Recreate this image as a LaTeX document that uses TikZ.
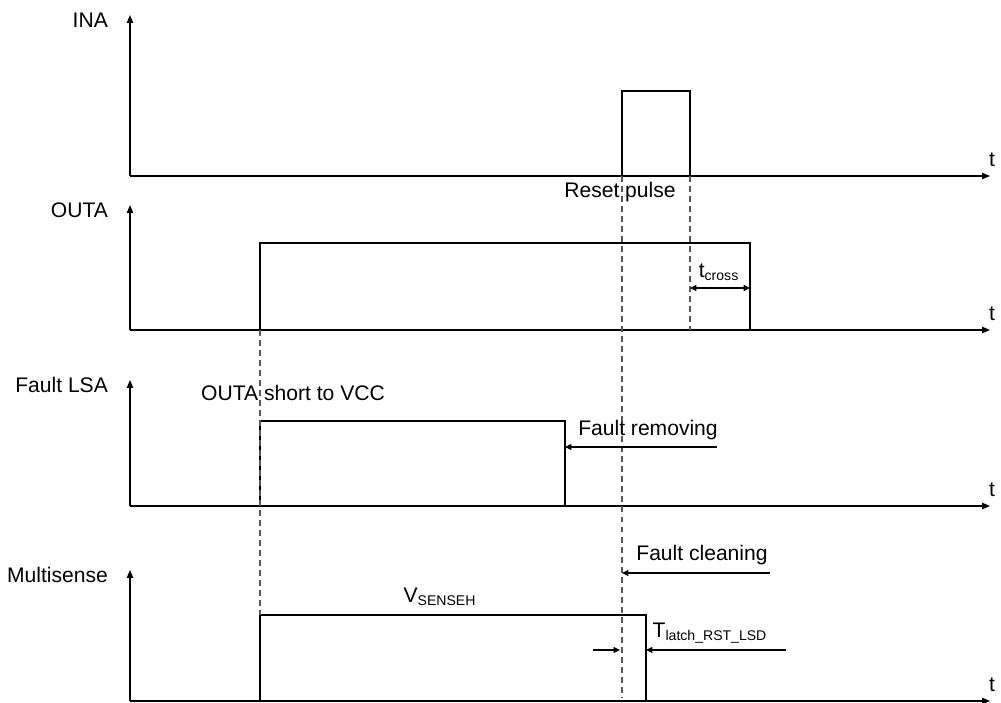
\documentclass[tikz,border=0pt]{standalone}
\usepackage{fontspec}
\setmainfont{Liberation Sans}
\usetikzlibrary{arrows.meta,calc,positioning}
\tikzset{
  axis/.style={
    line width=0.7pt,
    -{Triangle[length=4.5pt,width=3.6pt]}
  },
  signal/.style={
    line width=1.3pt,
    line join=miter
  },
  guide/.style={
    gray!70!black,
    line width=0.6pt,
    dash pattern=on 3.4pt off 2.3pt
  },
  marker/.style={
    line width=0.6pt,
    -{Triangle[length=3.6pt,width=3.4pt]}
  },
  lbl/.style={
    font=\fontsize{12}{14}\selectfont,
    inner sep=1pt
  }
}

\begin{document}
\begin{tikzpicture}[x=0.02cm,y=-0.02cm]
\useasboundingbox (0,0) rectangle (1001,703);
% axes of the four traces
\foreach \sig/\top/\base/\name in {ina/15/176/INA, outa/205/330/OUTA, flt/380/506/Fault LSA, msn/570/701/Multisense}{
  \coordinate (\sig-o) at (130,\base);
  \coordinate (\sig-y) at (130,\top);
  \coordinate (\sig-x) at (990,\base);
  \draw[axis] (\sig-o) -- (\sig-y);
  \draw[axis] (\sig-o) -- (\sig-x);
  \node[lbl, anchor=east] (\sig-name) at ($(\sig-y)+(-20,5)$) {\name};
  \node[lbl] (\sig-t) at ($(\sig-x)+(2,-16)$) {t};
}
% edges
\coordinate (ina-up) at (622,91);
\coordinate (ina-dn) at (690,91);
\coordinate (outa-up) at (260,243);
\coordinate (outa-dn) at (750,243);
\coordinate (flt-up) at (260,421);
\coordinate (flt-dn) at (565,421);
\coordinate (msn-up) at (260,615);
\coordinate (msn-dn) at (646,615);
% waveforms
\draw[signal] (ina-o) -| (ina-up) -- (ina-dn) |- (953,176);
\draw[signal] (outa-o) -| (outa-up) -- (outa-dn) |- (953,330);
\draw[signal] (flt-o) -| (flt-up) -- (flt-dn) |- (953,506);
\draw[signal] (msn-o) -| (msn-up) -- (msn-dn) |- (953,701);
% dashed guides
\draw[guide] (outa-up |- outa-o) -- (msn-up);
\draw[guide] (ina-up |- ina-o) -- (622,697);
\draw[guide] (ina-dn |- ina-o) -- (690,330);
% labels
\node[lbl] (reset) at (620,192) {Reset pulse};
\node[lbl] (short) at (293,393) {OUTA short to VCC};
\node[lbl] (vsense) at (440,597) {V\textsubscript{SENSEH}};
% t cross
\coordinate (tc-a) at (690,288);
\coordinate (tc-b) at (750,288);
\draw[marker, {Triangle[length=3.6pt,width=3.4pt]}-{Triangle[length=3.6pt,width=3.4pt]}] (tc-a) -- (tc-b);
\node[lbl] (tcross) at (719,272) {t\textsubscript{cross}};
% fault removing
\coordinate (frm-a) at (717,447);
\node[lbl] (frm) at (648,430) {Fault removing};
\draw[marker] (frm-a) -- (flt-dn |- frm-a);
% fault cleaning
\coordinate (fcl-a) at (770,573);
\node[lbl] (fcl) at (702,555) {Fault cleaning};
\draw[marker] (fcl-a) -- (622,573);
% latch time
\coordinate (tl-a) at (786,650);
\coordinate (tl-b) at (593,650);
\node[lbl] (tlatch) at (710,633) {T\textsubscript{latch\_RST\_LSD}};
\draw[marker] (tl-a) -- (msn-dn |- tl-a);
\draw[marker] (tl-b) -- (620,650);
\end{tikzpicture}
\end{document}
